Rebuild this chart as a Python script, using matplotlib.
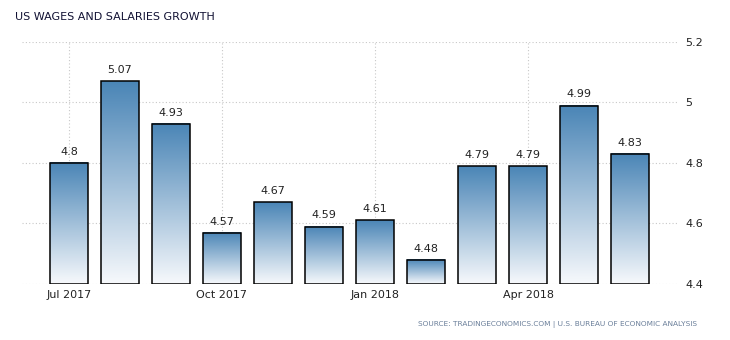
import numpy as np
import matplotlib.pyplot as plt
from matplotlib.colors import LinearSegmentedColormap

months = ['Jul 2017', 'Aug 2017', 'Sep 2017', 'Oct 2017', 'Nov 2017', 'Dec 2017',
          'Jan 2018', 'Feb 2018', 'Mar 2018', 'Apr 2018', 'May 2018', 'Jun 2018']
values = [4.8, 5.07, 4.93, 4.57, 4.67, 4.59, 4.61, 4.48, 4.79, 4.79, 4.99, 4.83]
tick_months = ['Jul 2017', 'Oct 2017', 'Jan 2018', 'Apr 2018']
y_ticks = [4.4, 4.6, 4.8, 5.0, 5.2]
y_labels = ['4.4', '4.6', '4.8', '5', '5.2']

fig = plt.figure(figsize=(7.3, 3.4), dpi=100)
ax = fig.add_axes([0.0301, 0.1647, 0.8974, 0.7118])

cmap = LinearSegmentedColormap.from_list('bar', ['#f7f9fc', '#4a85b6'])
grad = np.linspace(0, 1, 256).reshape(-1, 1)
x = np.arange(len(values))
w = 0.74
base = y_ticks[0]

for xi, v in zip(x, values):
    ax.imshow(grad, extent=[xi - w / 2, xi + w / 2, base, v], origin='lower',
              aspect='auto', cmap=cmap, zorder=2)
    ax.text(xi, v + 0.02, f'{v:g}', ha='center', va='bottom', fontsize=8, color='#222222')

ax.bar(x, np.array(values) - base, bottom=base, width=w, fill=False,
       edgecolor='black', linewidth=1.1, zorder=3)

ax.set_xlim(-0.92, 11.92)
ax.set_ylim(4.4, 5.2)

ax.set_yticks(y_ticks)
ax.set_yticklabels(y_labels)
ax.yaxis.tick_right()
ax.set_xticks([months.index(m) for m in tick_months])
ax.set_xticklabels(tick_months)
ax.tick_params(length=0, labelsize=8, colors='#222222', pad=4)
ax.tick_params(axis='y', pad=6)

ax.grid(True, linestyle=(0, (1, 2)), color='#c8c8c8', linewidth=0.8, zorder=0)
ax.set_axisbelow(True)
for s in ax.spines.values():
    s.set_visible(False)

fig.text(0.02, 0.95, 'US WAGES AND SALARIES GROWTH', fontsize=8, color='#111133',
         ha='left', va='center')
fig.text(0.955, 0.045, 'SOURCE: TRADINGECONOMICS.COM | U.S. BUREAU OF ECONOMIC ANALYSIS',
         fontsize=5.3, color='#6a7f9a', ha='right', va='center')

fig.savefig('out.png', dpi=100)
